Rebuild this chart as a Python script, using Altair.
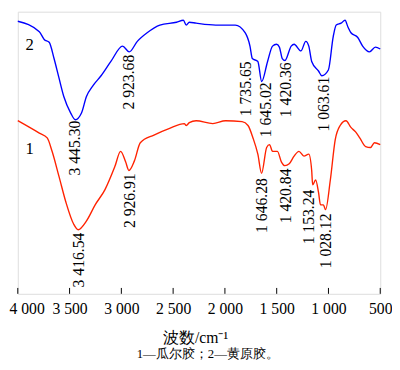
import altair as alt
import pandas as pd

# ---- data ----
blue_wn = [4000, 3792, 3745, 3697, 3650, 3603, 3555, 3489, 3445, 3385, 3338, 3272, 3196, 3101,
           2988, 2924, 2846, 2751, 2628, 2467, 2401, 2373, 2344, 2278, 2089, 1900, 1805, 1758,
           1735, 1682, 1645, 1588, 1540, 1502, 1474, 1446, 1420, 1360, 1332, 1266, 1219, 1190,
           1162, 1096, 1064, 1001, 954, 925, 878, 840, 812, 783, 717, 670, 604, 547, 500]
blue_t = [285, 274, 266, 263, 246, 226, 206, 189, 182, 189, 206, 218, 228, 243,
          259, 253, 264, 273, 281, 284, 286, 281, 284, 283, 281, 281, 273, 259,
          246, 243, 222, 243, 259, 261, 258, 246, 244, 259, 261, 254, 264, 259,
          243, 233, 228, 234, 269, 281, 283, 286, 279, 273, 268, 259, 253, 258, 256]

red_wn = [4000, 3792, 3716, 3669, 3603, 3536, 3461, 3417, 3338, 3253, 3158, 3063, 3007, 2959,
          2927, 2874, 2817, 2685, 2534, 2392, 2373, 2344, 2278, 2117, 1994, 1834, 1777, 1729,
          1682, 1646, 1597, 1569, 1540, 1493, 1455, 1421, 1379, 1332, 1285, 1237, 1190, 1162,
          1153, 1124, 1096, 1077, 1049, 1028, 982, 935, 887, 831, 783, 736, 698, 641, 594,
          556, 500]
red_t = [181, 168, 163, 149, 123, 96, 73, 67, 76, 93, 109, 133, 149, 138,
         129, 139, 158, 166, 173, 178, 176, 179, 181, 178, 181, 180, 176, 163,
         146, 126, 153, 156, 149, 149, 138, 134, 136, 144, 149, 144, 146, 129,
         114, 119, 106, 93, 93, 88, 119, 161, 176, 181, 174, 169, 163, 154, 153,
         158, 156]

label_text = ["3 445.30", "2 923.68", "1 735.65", "1 645.02", "1 420.36", "1 063.61",
              "3 416.54", "2 926.91", "1 646.28", "1 420.84", "1 153.24", "1 028.12"]
label_x = [3451, 2921, 1796, 1606, 1408, 1039, 3404, 2912, 1644, 1408, 1190, 1020]
label_top = [181, 250, 243, 221, 242, 227, 64, 126, 121, 131, 109, 84]

series_names = ["2", "1"]
series_x = [3886, 3886]
series_y = [260, 151]

tick_values = [4000, 3500, 3000, 2500, 2000, 1500, 1000, 500]

SERIF = "serif"

curves = pd.DataFrame({
    "wn": blue_wn + red_wn,
    "t": blue_t + red_t,
    "s": ["blue"] * len(blue_wn) + ["red"] * len(red_wn),
    "idx": list(range(len(blue_wn))) + list(range(len(red_wn))),
})
labels = pd.DataFrame({"wn": label_x, "t": label_top, "txt": label_text})
names = pd.DataFrame({"wn": series_x, "t": series_y, "txt": series_names})
ticks = pd.DataFrame({"wn": tick_values})

H = 288
xscale = alt.Scale(domain=[4000, 500], nice=False, zero=False)
yscale = alt.Scale(domain=[0, 295], nice=False, zero=False)

xaxis = alt.Axis(
    values=tick_values, ticks=False, domain=False, grid=False,
    labelExpr="datum.value >= 1000 ? replace(format(datum.value, ','), ',', ' ') : format(datum.value, 'd')",
    labelFont=SERIF, labelFontSize=16, labelColor="black", labelPadding=7,
    labelOverlap=False, labelFlush=False,
    labelOffset={"condition": {"test": "datum.value == 4000", "value": 9}, "value": 0},
    title="波数/cm⁻¹", titleFont=SERIF, titleFontSize=16, titleFontWeight="normal",
    titleColor="black", titlePadding=14, titleX=181,
)

lines = alt.Chart(curves).mark_line(strokeWidth=1.4, interpolate="monotone").encode(
    x=alt.X("wn:Q", scale=xscale, axis=xaxis),
    y=alt.Y("t:Q", scale=yscale, axis=None),
    detail="s:N",
    order="idx:Q",
    color=alt.Color("s:N", scale=alt.Scale(domain=["blue", "red"], range=["#0000ff", "#ff2200"]), legend=None),
)

ann = alt.Chart(labels).mark_text(
    angle=270, align="right", baseline="middle", font=SERIF, fontSize=16, color="black"
).encode(x=alt.X("wn:Q", scale=xscale), y=alt.Y("t:Q", scale=yscale), text="txt:N")

nm = alt.Chart(names).mark_text(
    align="center", baseline="middle", font=SERIF, fontSize=17, color="black"
).encode(x=alt.X("wn:Q", scale=xscale), y=alt.Y("t:Q", scale=yscale), text="txt:N")

tk = alt.Chart(ticks).mark_rule(color="black", strokeWidth=1).encode(
    x=alt.X("wn:Q", scale=xscale), y=alt.value(H - 6), y2=alt.value(H)
)

chart = alt.layer(lines, ann, nm, tk).properties(
    width=370, height=H,
    title=alt.TitleParams(text="1—瓜尔胶；2—黄原胶。", orient="bottom", font=SERIF,
                          fontSize=13, fontWeight="normal", color="black", offset=3, dx=9),
    autosize=alt.AutoSizeParams(type="none"),
    padding={"left": 10, "top": 0, "right": 12, "bottom": 74},
).configure_view(stroke="black", strokeWidth=1).configure(background="white")

chart.save("out.html", embed_options={"renderer": "svg", "actions": False})
